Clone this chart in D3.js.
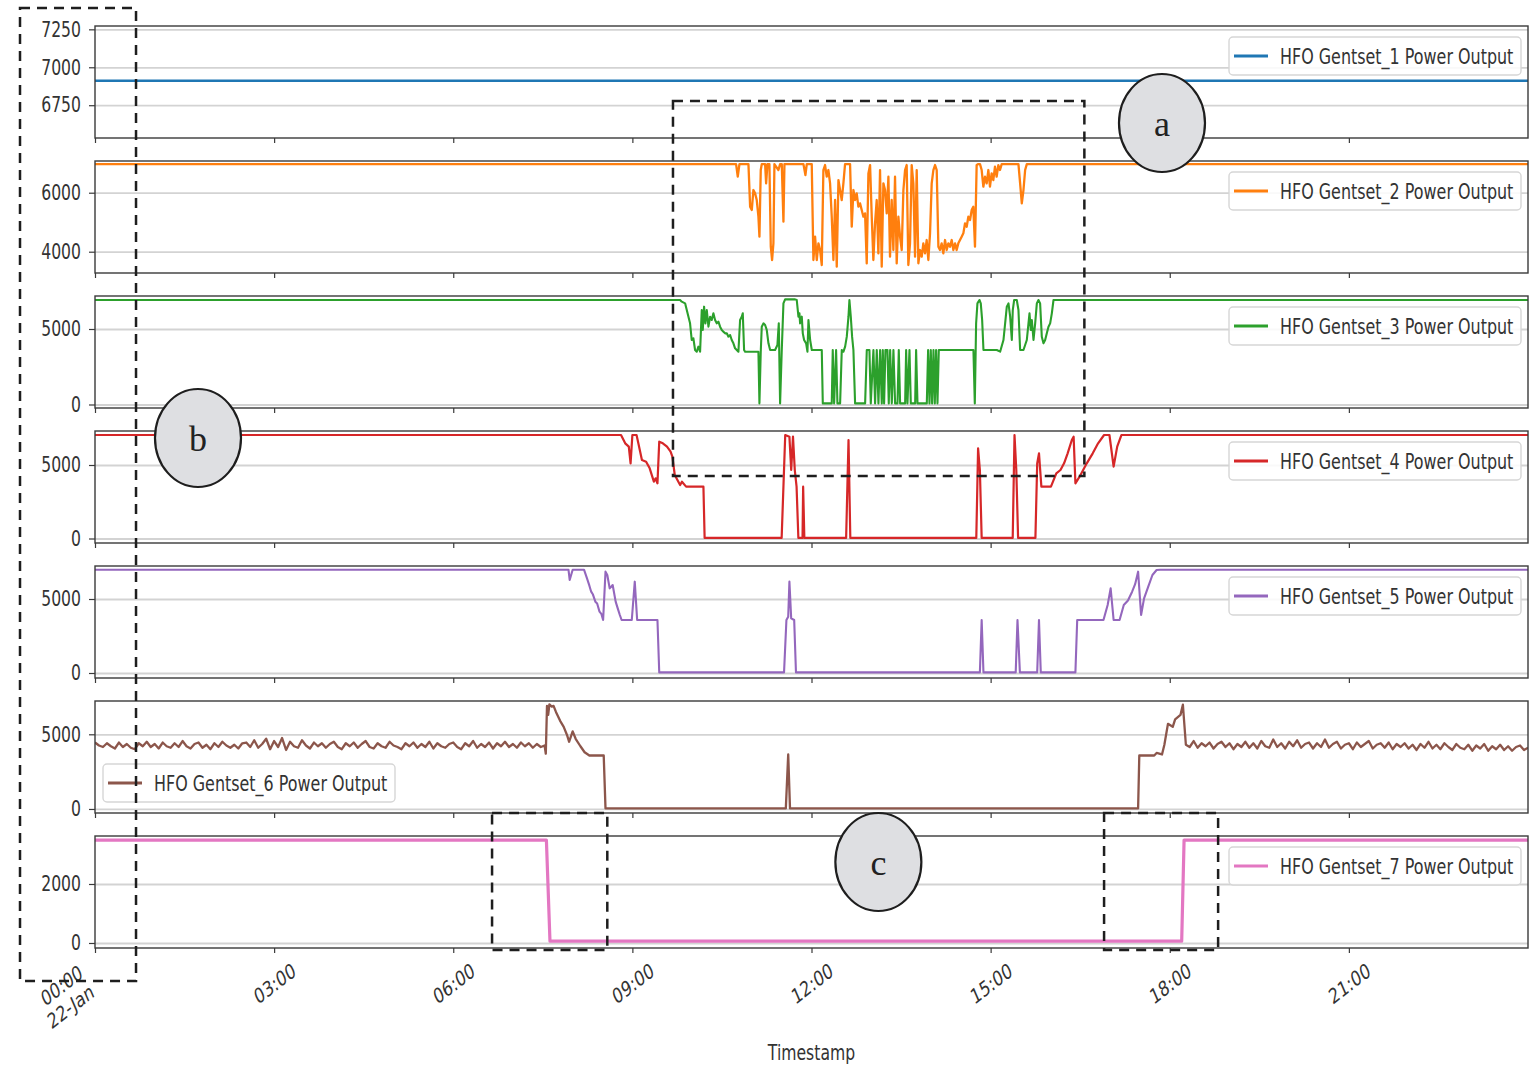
<!DOCTYPE html>
<html><head><meta charset="utf-8">
<script src="https://cdn.jsdelivr.net/npm/d3@7"></script>
<style>
html,body{margin:0;padding:0;background:#fff;}
svg{display:block;font-family:"DejaVu Sans",sans-serif;}
</style></head><body>
<svg id="chart" width="1537" height="1066"></svg>
<script>
// ---------------- DATA ----------------
const baseDate = new Date(2021, 0, 22, 0, 0, 0);
const seriesNames = [
  "HFO Gentset_1 Power Output","HFO Gentset_2 Power Output","HFO Gentset_3 Power Output",
  "HFO Gentset_4 Power Output","HFO Gentset_5 Power Output","HFO Gentset_6 Power Output",
  "HFO Gentset_7 Power Output"];
const yLimits = [[6534,7272],[3278,7075],[-232,7185],[-306,7313],[-338,7230],[-270,7230],[-170,3627]];
const yTickValues = [[6750,7000,7250],[4000,6000],[0,5000],[0,5000],[0,5000],[0,5000],[0,2000]];
const xTickHours = [0,3,6,9,12,15,18,21];
const xTickLabels = ["00:00\n22-Jan","03:00","06:00","09:00","12:00","15:00","18:00","21:00"];
const axisLabel = "Timestamp";

// series as [hour of day, kW]
const gen1 = [[0,6911],[24,6911]];
const gen2 = [[0,6970],[10.72,6970],[10.737,6970],[10.765,6543],[10.793,6970],[10.944,6970],[10.972,5526],[11.0,5413],[11.027,6091],[11.055,5978],[11.083,5752],[11.111,5187],[11.128,4509],[11.15,6769],[11.167,6970],[11.223,6970],[11.24,6317],[11.262,6970],[11.295,6970],[11.318,4170],[11.34,3718],[11.362,4283],[11.379,6970],[11.446,6769],[11.474,6970],[11.502,6970],[11.53,5017],[11.547,6970],[11.865,6970],[11.898,6600],[11.921,6970],[12.004,6970],
 [12.032,3718],[12.060,4509],[12.088,3718],[12.116,4283],[12.144,4057],[12.172,3548],[12.199,6769],[12.227,6938],[12.255,6543],[12.283,6769],[12.311,6317],[12.339,5187],[12.367,3718],[12.395,5752],[12.423,3492],[12.451,6430],[12.478,6091],[12.506,5752],[12.534,6317],[12.562,6970],[12.590,6970],[12.618,6970],[12.646,6970],[12.674,4848],[12.702,6091],[12.730,5752],[12.757,5978],[12.785,5526],[12.813,5639],[12.841,5413],[12.869,5187],[12.897,5300],[12.925,3605],[12.953,6656],[12.981,6938],[13.009,5187],[13.036,3718],[13.064,4961],[13.092,5752],[13.120,3944],[13.148,6769],[13.176,3492],[13.204,6317],[13.232,6091],[13.260,5300],[13.288,6543],[13.315,3831],[13.343,5752],[13.371,4057],[13.399,6543],[13.427,3605],[13.455,5187],[13.483,4509],[13.511,4057],[13.539,6091],[13.567,6769],[13.594,6938],[13.622,3548],[13.650,4283],[13.678,6938],[13.706,6317],[13.734,3831],[13.762,6769],[13.790,3605],[13.818,4057],[13.846,3831],[13.873,4283],[13.901,3944],[13.929,4396],[13.957,3718],[13.985,4622],[14.013,6317],[14.041,6769],[14.069,6938],[14.097,6769],[14.125,4170],[14.152,4057],[14.180,4283],[14.208,3944],[14.236,4396],[14.264,4057],[14.292,4283],[14.320,4170],[14.348,4396],[14.376,4057],[14.404,4283],[14.431,4057],[14.459,4283],[14.487,4396],[14.515,4509],[14.543,4622],[14.571,4961],[14.599,4848],[14.627,5187],[14.655,5074],[14.683,5413],[14.710,5526],[14.738,4170],[14.766,6938],[14.794,6970],[14.822,6970],[14.850,6769],[14.878,6204],[14.906,6543],[14.934,6317],[14.962,6769],[14.989,6204],[15.017,6656],[15.045,6430],[15.073,6882],[15.101,6543],[15.129,6938],[15.157,6769],[15.185,6970],
 [15.466,6970],[15.494,6317],[15.522,5639],[15.55,6091],[15.578,6769],[15.606,6970],[24,6970]];
const gen3 = [[0,6920],[9.72,6920],[9.799,6920],[9.827,6809],[9.883,6700],[9.911,6256],[9.966,5374],[9.994,4271],[10.022,4380],[10.050,3609],[10.078,3498],[10.106,3829],[10.134,3498],[10.162,6256],[10.179,4932],[10.201,6478],[10.223,5374],[10.246,6256],[10.274,5153],[10.302,5815],[10.329,5594],[10.357,6035],[10.385,5594],[10.413,5374],[10.441,5484],[10.469,5153],[10.497,4932],[10.525,4822],[10.553,4712],[10.581,4712],[10.609,4491],[10.637,4601],[10.664,4271],[10.692,4050],[10.720,3719],[10.748,3609],[10.776,3498],[10.804,5594],[10.832,5815],[10.849,6035],[10.871,3609],[10.888,3498],[11.111,3498],[11.128,73],[11.150,3498],[11.167,5153],[11.195,5374],[11.223,5263],[11.251,4932],[11.279,4050],[11.307,3609],[11.390,3609],[11.429,3940],[11.452,5374],[11.474,73],[11.502,3609],[11.530,6698],[11.558,6962],[11.725,6962],[11.753,6920],[11.781,5815],[11.798,6035],[11.809,5374],[11.837,5815],[11.854,4712],[11.876,4271],[11.910,4050],[11.932,3498],[11.949,5594],[11.977,4271],[12.005,3609],[12.172,3609],[12.189,73],[12.339,73],[12.356,3609],[12.379,73],[12.412,3609],[12.434,73],[12.479,73],[12.507,3609],[12.535,3498],[12.563,3829],[12.591,4491],[12.619,5815],[12.635,6920],[12.658,5815],[12.680,4491],[12.702,3609],[12.730,73],[12.898,73],[12.926,3609],[12.970,3609],[12.993,73],[13.037,3609],[13.065,73],[13.093,3609],[13.121,73],[13.149,3609],[13.177,73],[13.194,3609],[13.216,73],[13.238,3609],[13.272,3609],[13.294,73],[13.317,3609],[13.345,73],[13.372,3609],[13.400,73],[13.440,73],[13.462,3609],[13.484,73],[13.568,73],[13.585,3609],[13.607,73],[13.641,3609],[13.663,73],[13.736,73],[13.752,3609],[13.775,73],[13.931,73],[13.953,3609],[13.976,73],[13.998,3609],[14.020,73],[14.043,3609],[14.065,73],[14.087,3609],[14.110,73],[14.132,3609],[14.712,3609],[14.735,73],[14.757,5374],[14.779,6698],[14.813,6920],[14.835,6698],[14.858,5594],[14.880,3609],[15.103,3609],[15.159,3498],[15.215,4271],[15.243,5374],[15.271,6478],[15.299,6698],[15.327,5815],[15.355,4271],[15.371,6256],[15.394,6920],[15.438,6920],[15.466,6256],[15.494,3609],[15.550,3609],[15.606,4271],[15.634,5374],[15.651,6035],[15.673,4932],[15.690,5594],[15.718,4271],[15.746,5374],[15.774,6698],[15.801,6920],[15.829,6698],[15.857,4491],[15.885,4050],[15.913,4271],[15.941,4712],[15.969,5153],[15.997,5374],[16.025,6035],[16.053,6920],[24,6920]];
const gen4 = [[0,7040],[8.81,7040],[8.88,6474],[8.94,6248],[8.97,5114],[9.00,7040],[9.07,7040],[9.10,6474],[9.16,5340],[9.23,5227],[9.29,4773],[9.36,3866],[9.39,4093],[9.42,3753],[9.45,6588],[9.51,6474],[9.58,6248],[9.64,5907],[9.67,5567],[9.71,4320],[9.77,3866],[9.80,3639],[9.83,3866],[9.90,3526],[10.19,3526],[10.21,40],[11.50,40],[11.56,7040],[11.63,6928],[11.66,4660],[11.69,6928],[11.72,4660],[11.75,3526],[11.78,40],[11.85,40],[11.86,3526],[11.88,40],[12.58,40],[12.62,6701],[12.65,40],[14.76,40],[14.79,6134],[14.82,4660],[14.85,40],[15.37,40],[15.40,7040],[15.43,4660],[15.46,40],[15.75,40],[15.78,5114],[15.81,5794],[15.85,3526],[16.01,3526],[16.10,4433],[16.17,4660],[16.23,5114],[16.29,5794],[16.36,6701],[16.39,6928],[16.42,3753],[16.49,4206],[16.55,4660],[16.61,5114],[16.71,5794],[16.80,6474],[16.90,7040],[16.99,7040],[17.06,4887],[17.12,6247],[17.19,7040],[24,7040]];
const gen5 = [[0,6980],[7.93,6980],[7.95,6284],[8.00,6980],[8.19,6980],[8.24,6396],[8.28,5900],[8.31,5495],[8.34,5300],[8.38,4820],[8.41,4700],[8.45,4144],[8.48,4000],[8.51,3581],[8.55,6847],[8.58,6622],[8.62,5721],[8.67,5946],[8.72,4820],[8.76,4300],[8.79,3919],[8.82,3581],[8.99,3581],[9.04,6171],[9.08,3581],[9.42,3581],[9.45,40],[11.54,40],[11.58,3581],[11.61,3806],[11.63,6171],[11.66,3694],[11.71,3581],[11.74,40],[14.82,40],[14.85,3581],[14.88,40],[15.42,40],[15.45,3581],[15.49,40],[15.78,40],[15.81,3581],[15.84,40],[16.42,40],[16.45,3581],[16.89,3581],[16.96,4595],[17.01,5721],[17.06,3581],[17.16,3581],[17.23,4595],[17.30,4900],[17.37,5495],[17.42,6000],[17.47,6847],[17.52,3919],[17.57,5045],[17.64,5833],[17.71,6622],[17.78,6960],[17.84,6980],[24,6980]];
// Gentset 6: 4-minute samples from 00:00, the shutdown/start-up section, 4-minute samples from 18:20
const gen6Morning = [
 4450,4250,4150,4400,4200,4050,4450,4150,4350,4100,
 4000,4400,4200,4500,4150,4350,4050,4450,4200,4100,
 4400,4150,4550,4200,4050,4350,4450,4100,4300,4000,
 4400,4150,4500,4250,4100,4300,4050,4400,4450,4150,
 4600,4100,4350,4700,4000,4550,4150,4750,3950,4500,
 4200,4100,4600,4250,4050,4450,4200,4400,4100,4350,
 4500,4150,4000,4400,4200,4450,4100,4350,4550,4150,
 4050,4400,4200,4100,4500,4250,4150,4000,4400,4200,
 4450,4100,4350,4150,4500,4050,4400,4200,4100,4350,
 4450,4150,4000,4400,4200,4550,4100,4350,4150,4450,
 4050,4400,4200,4500,4150,4350,4100,4450,4200,4400,
 4100,4350,4150];
const gen6Transition = [[7.53,4250],[7.55,3700],[7.57,6900],[7.59,6300],[7.61,7000],[7.65,6850],[7.68,6900],[7.72,6500],[7.79,5900],[7.85,5500],[7.91,4900],[7.94,4500],[8.00,5200],[8.05,4700],[8.13,4200],[8.20,3800],[8.28,3580],[8.52,3580],[8.55,40],[11.57,40],[11.61,3650],[11.64,40],[17.47,40],[17.49,3580],[17.74,3580],[17.78,3750],[17.87,3650],[17.91,4300],[17.97,5700],[18.05,5500],[18.09,6000],[18.18,6300],[18.22,6980],[18.27,4300]];
const gen6Evening = [
 4150,4550,4100,4400,4200,4450,4050,4350,4500,4150,
 4400,4000,4350,4150,4500,4100,4400,4050,4550,4200,
 4100,4650,4150,4400,4050,4500,4200,4600,4100,4350,
 4450,4050,4400,4150,4650,4100,4350,4500,4050,4300,
 4400,4000,4450,4150,4350,4550,4050,4300,4400,4100,
 4450,4000,4350,4150,4400,4050,4300,3950,4350,4100,
 4500,4050,4300,4000,4400,4150,3950,4350,4100,4000,
 4300,3900,4250,4050,4350,3900,4200,4000,4300,3950,
 4200,3900,4150,4250,3950,4100];
const gen7 = [[0,3490],[7.56,3490],[7.62,60],[18.20,60],[18.24,3490],[24,3490]];

// ---------------- BUILD ----------------
const gen6 = gen6Morning.map((v,i)=>[i*4/60, v])
  .concat(gen6Transition)
  .concat(gen6Evening.map((v,i)=>[18+20/60 + i*4/60, v]));
const allSeries = [gen1, gen2, gen3, gen4, gen5, gen6, gen7];
const colors = ["#1f77b4","#ff7f0e","#2ca02c","#d62728","#9467bd","#8c564b","#e377c2"];
const widths = [2.6,2.3,2.1,2.2,2.1,2.3,3.2];

const S = 0.745;           // horizontal squash of the original picture's text
const FS = 21;
const TXT = "#333";
const toDate = h => new Date(baseDate.getTime() + h*3600000);
const svg = d3.select("#chart");
const XL = 95, XR = 1528, PH = 112;
const panelTop = i => 26 + i*135;
const x = d3.scaleTime().domain([toDate(0), toDate(24)]).range([XL, XR]);

const defs = svg.append("defs");
defs.append("clipPath").attr("id","clipP").append("rect")
  .attr("x",XL).attr("y",0).attr("width",XR-XL).attr("height",PH);

allSeries.forEach((data, i) => {
  const g = svg.append("g").attr("transform", `translate(0,${panelTop(i)})`);
  const y = d3.scaleLinear().domain(yLimits[i]).range([PH, 0]);
  const ticks = yTickValues[i];

  // grid
  const grid = g.append("g").attr("transform", `translate(${XL},0)`)
    .call(d3.axisLeft(y).tickValues(ticks).tickSize(-(XR-XL)).tickFormat(""));
  grid.select(".domain").remove();
  grid.selectAll("line").attr("stroke","#d3d3d3").attr("stroke-width",1.8);

  // data line
  g.append("path").datum(data)
    .attr("clip-path","url(#clipP)")
    .attr("fill","none").attr("stroke",colors[i]).attr("stroke-width",widths[i])
    .attr("stroke-linejoin","round")
    .attr("d", d3.line().x(d=>x(toDate(d[0]))).y(d=>y(d[1])));

  // spines
  g.append("rect").attr("x",XL).attr("y",0).attr("width",XR-XL).attr("height",PH)
    .attr("fill","none").attr("stroke","#3a3a3a").attr("stroke-width",1.4);

  // y axis
  const ya = g.append("g").attr("transform", `translate(${XL},0)`)
    .call(d3.axisLeft(y).tickValues(ticks).tickSize(6).tickPadding(8).tickFormat(d3.format("d")));
  ya.select(".domain").remove();
  ya.selectAll(".tick line").attr("stroke","#3a3a3a").attr("stroke-width",1.2);
  ya.selectAll(".tick text").each(function(){
    const t = d3.select(this); const xx = +t.attr("x");
    t.attr("x",0).attr("transform",`translate(${xx},0) scale(${S},1)`)
     .attr("font-size",FS).attr("font-family","DejaVu Sans").attr("fill",TXT);
  });

  // x axis
  const last = i === allSeries.length-1;
  const xa = g.append("g").attr("transform", `translate(0,${PH})`)
    .call(d3.axisBottom(x).tickValues(xTickHours.map(toDate)).tickSize(5)
      .tickFormat(last ? ((d,k)=>xTickLabels[k]) : ""));
  xa.select(".domain").remove();
  xa.selectAll(".tick line").attr("stroke","#3a3a3a").attr("stroke-width",1.2);
  if (last) {
    xa.selectAll(".tick text").each(function(d,k){
      const t = d3.select(this);
      const lines = xTickLabels[k].split("\n");
      t.text(null).attr("y",null).attr("dy",null)
       .attr("text-anchor","middle").attr("dominant-baseline","central")
       .attr("font-size",FS).attr("font-family","DejaVu Sans").attr("fill",TXT);
      lines.forEach((ln,j)=>t.append("tspan").attr("x",0).attr("dy", j===0?0:"1.15em").text(ln));
      const off = lines.length>1 ? [-34,37] : [0,35];
      t.attr("transform",`translate(${off[0]},${off[1]}) scale(${S},1) rotate(-30)`);
    });
  }

  // legend
  const lowerLeft = (i === 5);
  const bw = 292, bh = 38;
  const bx = lowerLeft ? 103 : 1229;
  const by = lowerLeft ? PH - 11 - bh : 11;
  const lg = g.append("g").attr("transform",`translate(${bx},${by})`);
  lg.append("rect").attr("width",bw).attr("height",bh).attr("rx",4)
    .attr("fill","#fff").attr("fill-opacity",0.85).attr("stroke","#d6d6d6").attr("stroke-width",1.4);
  lg.append("line").attr("x1",5).attr("x2",39).attr("y1",bh/2).attr("y2",bh/2)
    .attr("stroke",colors[i]).attr("stroke-width",3);
  lg.append("text").attr("transform",`translate(51,${bh/2}) scale(${S},1)`)
    .attr("dominant-baseline","central").attr("font-size",21.4).attr("fill",TXT)
    .text(seriesNames[i]);
});

// x axis label
svg.append("text").attr("transform",`translate(${(XL+XR)/2},1053) scale(${S},1)`)
  .attr("text-anchor","middle").attr("dominant-baseline","central")
  .attr("font-size",FS).attr("fill",TXT).text(axisLabel);

// ---------------- ANNOTATIONS ----------------
const ann = svg.append("g");
function dashedBox(h0, h1, y0, y1){
  ann.append("rect").attr("x",x(toDate(h0))).attr("y",y0)
    .attr("width",x(toDate(h1))-x(toDate(h0))).attr("height",y1-y0)
    .attr("fill","none").attr("stroke","#1e1e1e").attr("stroke-width",2.5)
    .attr("stroke-dasharray","10,7");
}
dashedBox(-1.256, 0.687, 8, 981);
dashedBox(9.68, 16.57, 101, 476);
dashedBox(6.65, 8.58, 813, 950);
dashedBox(16.90, 18.81, 813, 950);
function bubble(h, cy, letter){
  const cx = x(toDate(h));
  ann.append("ellipse").attr("cx",cx).attr("cy",cy).attr("rx",43).attr("ry",49)
    .attr("fill","#dedfe2").attr("stroke","#1e1e1e").attr("stroke-width",2.2);
  ann.append("text").attr("x",cx).attr("y",cy+13).attr("text-anchor","middle")
    .attr("font-family","'Liberation Serif',serif").attr("font-size",36).attr("fill","#222").text(letter);
}
bubble(17.87, 123, "a");
bubble(1.725, 438, "b");
bubble(13.12, 862, "c");
</script>
</body></html>
